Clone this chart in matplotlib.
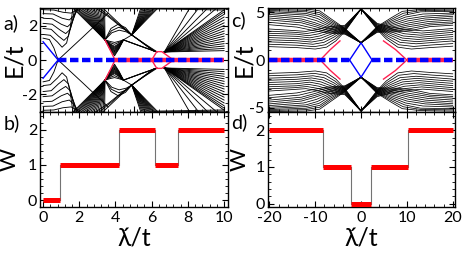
import matplotlib
matplotlib.use("Agg")
import matplotlib.pyplot as plt
from matplotlib.ticker import MultipleLocator

plt.rcParams['font.family'] = ['Lato', 'DejaVu Sans']
plt.rcParams['axes.unicode_minus'] = False

# ==========================
# Data; spectra are symmetric, only E>0 half listed
# ==========================

# panel a : E/t vs lambda'/t, 0..10
plateau_a = [
    [(0, 1.28), (0.35, 1.2), (0.6, 0.7), (0.83, 0.0), (2.2, -1.35), (3.6, -2.75)],
    [(0, 1.5), (0.4, 1.45), (0.8, 1.05), (1.05, 0.75), (1.3, 1.0), (1.5, 1.9), (1.65, 3.05)],
    [(0, 1.85), (0.45, 1.8), (0.85, 1.4), (1.15, 1.15), (1.4, 1.4), (1.6, 2.2), (1.75, 3.05)],
    [(0, 2.15), (0.5, 2.1), (0.95, 1.75), (1.25, 1.55), (1.5, 1.8), (1.7, 2.5), (1.85, 3.05)],
    [(0, 2.45), (0.5, 2.42), (1.0, 2.1), (1.35, 1.95), (1.6, 2.2), (1.8, 2.75), (1.95, 3.05)],
    [(0, 2.72), (0.55, 2.7), (1.05, 2.45), (1.45, 2.35), (1.7, 2.6), (1.9, 2.95), (2.0, 3.05)],
    [(0, 2.95), (0.6, 2.93), (1.1, 2.8), (1.55, 2.75), (1.8, 2.9), (2.0, 3.05)],
]
fan_b_vertex = (3.42, 1.18)
fan_b_top_x = [1.65, 1.74, 1.83, 1.92, 2.01, 2.1, 2.19, 2.28, 2.37, 2.46, 2.55,
               2.64, 2.73, 2.82, 2.91, 3.0, 3.1, 3.2, 3.3, 3.4]
funnel_a = [
    [(3.42, 1.18), (3.7, 0.62), (3.95, 0.25), (4.2, 0.67), (4.44, 1.18)],
    [(3.42, 1.18), (3.7, 0.67), (3.95, 0.33), (4.2, 0.71), (4.44, 1.18)],
    [(3.42, 1.18), (3.7, 0.71), (3.95, 0.40), (4.2, 0.75), (4.44, 1.18)],
    [(3.42, 1.18), (3.7, 0.76), (3.95, 0.48), (4.2, 0.79), (4.44, 1.18)],
    [(3.42, 1.18), (3.7, 0.80), (3.95, 0.55), (4.2, 0.83), (4.44, 1.18)],
    [(3.42, 1.18), (3.7, 0.84), (3.95, 0.62), (4.2, 0.87), (4.44, 1.18)],
    [(3.42, 1.18), (3.7, 0.88), (3.95, 0.68), (4.2, 0.905), (4.44, 1.18)],
    [(3.42, 1.18), (3.7, 0.92), (3.95, 0.74), (4.2, 0.94), (4.44, 1.18)],
    [(3.42, 1.18), (3.7, 0.95), (3.95, 0.80), (4.2, 0.97), (4.44, 1.18)],
    [(3.42, 1.18), (3.7, 1.02), (3.95, 0.92), (4.2, 1.04), (4.44, 1.18)],
    [(3.42, 1.18), (3.7, 1.09), (3.95, 1.03), (4.2, 1.10), (4.44, 1.18)],
]
lens_a = [
    [(3.42, 1.18), (3.8, 1.6), (4.2, 1.75), (4.6, 1.65), (4.9, 1.47)],
    [(3.42, 1.18), (3.78, 1.72), (4.18, 1.92), (4.58, 1.78), (4.9, 1.47)],
    [(3.42, 1.18), (3.75, 1.85), (4.15, 2.1), (4.55, 1.9), (4.9, 1.47)],
    [(2.9, 3.05), (3.6, 2.55), (4.3, 1.95), (4.9, 1.47)],
    [(3.1, 3.05), (3.8, 2.45), (4.4, 1.9), (4.9, 1.47)],
    [(3.3, 3.05), (3.95, 2.4), (4.5, 1.85), (4.9, 1.47)],
    [(4.44, 1.18), (4.9, 1.47)],
]
fan_d_vertex = (4.9, 1.47)
fan_d_top_x = [5.4, 5.47, 5.54, 5.61, 5.68, 5.75, 5.82, 5.89, 5.96, 6.03, 6.1, 6.18, 6.26, 6.35]
fan_e_a = [
    [(4.9, 1.47), (5.5, 1.0), (6.1, 0.52)],
    [(4.9, 1.47), (5.52, 0.99), (6.15, 0.51)],
    [(4.9, 1.47), (5.55, 0.98), (6.2, 0.5)],
    [(4.9, 1.47), (5.6, 0.96), (6.3, 0.48)],
    [(4.44, 1.18), (5.3, 0.85), (6.2, 0.5)],
    [(4.44, 1.18), (5.35, 0.83), (6.25, 0.49)],
    [(4.44, 1.18), (5.4, 0.8), (6.3, 0.47)],
]
fan_r_start = (6.7, 0.47)
fan_r_end = [(10, 0.55), (10, 0.68), (10, 0.82), (10, 0.96), (10, 1.1), (10, 1.25),
             (10, 1.4), (10, 1.55), (10, 1.7), (10, 1.86), (10, 2.02), (10, 2.18),
             (10, 2.35), (10, 2.52), (10, 2.68), (10, 2.82), (10, 2.94),
             (9.6, 3.05), (9.1, 3.05), (8.6, 3.05), (8.1, 3.05)]
top_a = [[(6.2, 3.0), (10, 2.93)], [(6.0, 3.05), (10, 3.0)]]

blue_edge_a = [(0, 1.07), (0.83, 0.0)]
red_edge_a = [(3.42, 1.18), (3.7, 0.6), (3.98, 0.0)]
red_diamond_a = [(6.0, 0.0), (6.28, 0.49), (6.56, 0.49), (7.2, 0.0)]
zero_blue_a = [(0.83, 10)]
zero_red_a = [(3.98, 10)]

# panel c : E/t vs lambda'/t, -20..20
v_lines_c = [
    [(-20, 5.4), (-12, 5.35), (-9, 5.15), (-6.5, 4.3), (-3.5, 3.3), (0, 1.8), (3.5, 3.5), (6.5, 4.4), (9, 5.1), (13, 5.3), (20, 5.35)],
    [(-20, 5.3), (-12, 5.2), (-9, 4.95), (-6.6, 4.15), (-3.5, 3.24), (0, 1.8), (3.5, 3.44), (6.6, 4.25), (9.2, 4.9), (13, 5.18), (20, 5.22)],
    [(-20, 5.2), (-12, 5.05), (-9, 4.75), (-6.7, 4.0), (-3.5, 3.18), (0, 1.8), (3.5, 3.38), (6.7, 4.1), (9.5, 4.7), (13, 5.05), (20, 5.1)],
    [(-20, 5.08), (-12, 4.88), (-9.2, 4.55), (-6.8, 3.85), (-3.5, 3.12), (0, 1.8), (3.5, 3.32), (6.8, 3.95), (9.7, 4.5), (13.5, 4.82), (20, 4.92)],
    [(-20, 4.95), (-12, 4.7), (-9.5, 4.35), (-6.9, 3.7), (-3.5, 3.06), (0, 1.8), (3.5, 3.26), (6.9, 3.8), (10, 4.3), (14, 4.6), (20, 4.75)],
    [(-20, 4.78), (-12.5, 4.5), (-9.7, 4.12), (-7.0, 3.55), (-3.5, 3.0), (0, 1.8), (3.5, 3.2), (7.0, 3.65), (10.2, 4.1), (14, 4.4), (20, 4.58)],
    [(-20, 4.6), (-13, 4.3), (-10, 3.9), (-7.1, 3.4), (-3.5, 2.94), (0, 1.8), (3.5, 3.14), (7.1, 3.5), (10.5, 3.9), (14, 4.2), (20, 4.4)],
    [(-20, 4.4), (-13, 4.1), (-10, 3.7), (-7.2, 3.26), (-3.5, 2.88), (0, 1.8), (3.5, 3.08), (7.2, 3.36), (10.5, 3.7), (14.5, 4.02), (20, 4.2)],
    [(-20, 4.2), (-13, 3.9), (-10, 3.5), (-7.3, 3.12), (-3.5, 2.82), (0, 1.8), (3.5, 3.02), (7.3, 3.22), (10.5, 3.5), (15, 3.85), (20, 4.0)],
    [(-20, 3.95), (-13.5, 3.68), (-10.2, 3.3), (-7.4, 2.98), (-3.5, 2.76), (0, 1.8), (3.5, 2.96), (7.4, 3.08), (10.8, 3.3), (15, 3.68), (20, 3.82)],
    [(-20, 3.7), (-14, 3.45), (-10.5, 3.1), (-7.5, 2.85), (-3.5, 2.7), (0, 1.8), (3.5, 2.9), (7.5, 2.95), (11, 3.1), (15, 3.5), (20, 3.65)],
]
lambda_lines_c = [
    [(-20, 1.4), (-14, 1.3), (-10, 1.15), (-7.5, 1.35), (-5.5, 2.0), (-3.5, 3.0), (0, 5.35), (3.5, 3.2), (5.5, 2.2), (8, 1.35), (11, 1.15), (15, 1.3), (20, 1.45)],
    [(-20, 1.65), (-14, 1.55), (-10.2, 1.4), (-7.8, 1.6), (-5.7, 2.2), (-3.5, 3.08), (0, 5.35), (3.5, 3.28), (5.7, 2.35), (8.2, 1.6), (11.5, 1.42), (15.5, 1.58), (20, 1.72)],
    [(-20, 1.9), (-14, 1.8), (-10.5, 1.65), (-8.1, 1.85), (-5.9, 2.4), (-3.5, 3.16), (0, 5.35), (3.5, 3.36), (5.9, 2.5), (8.5, 1.85), (12, 1.7), (16, 1.85), (20, 2.0)],
    [(-20, 2.12), (-14, 2.02), (-10.8, 1.88), (-8.4, 2.08), (-6.1, 2.58), (-3.5, 3.24), (0, 5.35), (3.5, 3.44), (6.1, 2.65), (8.8, 2.08), (12.2, 1.92), (16, 2.08), (20, 2.22)],
    [(-20, 2.35), (-14, 2.25), (-11, 2.1), (-8.7, 2.3), (-6.3, 2.76), (-3.5, 3.32), (0, 5.35), (3.5, 3.52), (6.3, 2.8), (9, 2.3), (12.5, 2.15), (16, 2.3), (20, 2.45)],
    [(-20, 2.58), (-14, 2.48), (-11.2, 2.32), (-9, 2.52), (-6.5, 2.94), (-3.5, 3.4), (0, 5.35), (3.5, 3.6), (6.5, 2.95), (9.2, 2.52), (12.8, 2.38), (20, 2.68)],
    [(-20, 2.8), (-14, 2.7), (-11.5, 2.55), (-9.3, 2.74), (-6.7, 3.12), (-3.5, 3.48), (0, 5.35), (3.5, 3.68), (6.7, 3.1), (9.5, 2.75), (13, 2.6), (20, 2.9)],
    [(-20, 3.02), (-14.5, 2.9), (-11.8, 2.78), (-9.6, 2.96), (-6.9, 3.3), (-3.5, 3.56), (0, 5.35), (3.5, 3.76), (6.9, 3.25), (9.8, 2.98), (13.2, 2.82), (20, 3.1)],
    [(-20, 3.25), (-15, 3.1), (-12, 3.0), (-9.9, 3.18), (-7.1, 3.48), (-3.5, 3.64), (0, 5.35), (3.5, 3.84), (7.1, 3.4), (10, 3.2), (13.5, 3.05), (20, 3.3)],
]
blue_diamond_c = [(-2.5, 0.0), (0, 1.8), (2.4, 0.0)]
red_edge_c = [[(-8.9, 0.0), (-6.8, 1.05), (-4.6, 2.0)], [(10.0, 0.0), (7.5, 1.1), (4.9, 2.0)]]
zero_blue_c = [(-20, -2.5), (2.4, 20)]
zero_red_c = [(-20, -8.9), (10.0, 20)]

# panels b, d : winding number W
wb_edges = [0, 0.93, 4.18, 6.16, 7.45, 10]
wb = [0, 1, 2, 1, 2]
wd_edges = [-20, -8.2, -2.2, 2.2, 10.2, 20]
wd = [2, 1, 0, 1, 2]

RED = '#ff0000'
PINK = '#ff2050'
BLUE = '#0000ff'


def curve(ax, pts, **kw):
    xs = [p[0] for p in pts]
    ys = [p[1] for p in pts]
    ax.plot(xs, ys, **kw)
    ax.plot(xs, [-y for y in ys], **kw)


def spectrum_lines(ax, curves, lw=0.65):
    for c in curves:
        curve(ax, c, color='black', lw=lw)


def fan(ax, vertex, ends):
    for e in ends:
        curve(ax, [vertex, e], color='black', lw=0.65)


def zero_modes(ax, blue_segs, red_segs):
    for x0, x1 in red_segs:
        ax.plot([x0, x1], [0, 0], color=PINK, lw=3.2, solid_capstyle='butt', zorder=4)
    for x0, x1 in blue_segs:
        ax.plot([x0, x1], [0, 0], color=BLUE, lw=3.2, linestyle=(0, (1.9, 0.8)),
                dash_capstyle='butt', zorder=5)


def winding(ax, edges, w):
    for i in range(1, len(w)):
        ax.plot([edges[i], edges[i]], [w[i - 1], w[i]], color='0.45', lw=0.8, zorder=2)
    for i in range(len(w)):
        ax.plot([edges[i], edges[i + 1]], [w[i], w[i]], color=RED, lw=3.6,
                solid_capstyle='butt', zorder=3)


def style(ax):
    for s in ax.spines.values():
        s.set_linewidth(1.0)
    ax.tick_params(which='both', direction='in', top=True, right=True, labelsize=11.5, pad=2)
    ax.tick_params(axis='x', pad=3)
    ax.tick_params(which='major', length=4, width=0.8)
    ax.tick_params(which='minor', length=2, width=0.6)


fig = plt.figure(figsize=(4.63, 2.6), dpi=100)
ax_a = fig.add_axes([0.0864, 0.5692, 0.4054, 0.4])
ax_b = fig.add_axes([0.0864, 0.2027, 0.4054, 0.3665])
ax_c = fig.add_axes([0.5778, 0.5692, 0.405, 0.4])
ax_d = fig.add_axes([0.5778, 0.2027, 0.405, 0.3665])

# ---- panel a ----
spectrum_lines(ax_a, plateau_a + funnel_a + lens_a + fan_e_a + top_a)
fan(ax_a, fan_b_vertex, [(x, 3.05) for x in fan_b_top_x])
fan(ax_a, fan_d_vertex, [(x, 3.05) for x in fan_d_top_x])
fan(ax_a, fan_r_start, fan_r_end)
curve(ax_a, blue_edge_a, color=BLUE, lw=1.0, zorder=3)
curve(ax_a, red_edge_a, color=PINK, lw=1.0, zorder=3)
curve(ax_a, red_diamond_a, color=PINK, lw=1.0, zorder=3)
zero_modes(ax_a, zero_blue_a, zero_red_a)
ax_a.set_xlim(-0.17, 10.2)
ax_a.set_ylim(-3.05, 3.05)
ax_a.set_yticks([-2, 0, 2])
ax_a.xaxis.set_minor_locator(MultipleLocator(0.4))
ax_a.yaxis.set_minor_locator(MultipleLocator(0.5))
ax_a.set_xticklabels([])
ax_a.set_ylabel('E/t', fontsize=18)
ax_a.yaxis.set_label_coords(-0.08, 0.5)

# ---- panel b ----
winding(ax_b, wb_edges, wb)
ax_b.set_xlim(-0.17, 10.2)
ax_b.set_ylim(-0.2, 2.5)
ax_b.set_xticks([0, 2, 4, 6, 8, 10])
ax_b.set_yticks([0, 1, 2])
ax_b.xaxis.set_minor_locator(MultipleLocator(0.4))
ax_b.yaxis.set_minor_locator(MultipleLocator(0.2))
ax_b.set_ylabel('W', fontsize=16)
ax_b.yaxis.set_label_coords(-0.107, 0.5)
ax_b.set_xlabel('λ\u0301/t', fontsize=18)
ax_b.xaxis.set_label_coords(0.5, -0.2)

# ---- panel c ----
spectrum_lines(ax_c, v_lines_c + lambda_lines_c, lw=0.55)
curve(ax_c, blue_diamond_c, color=BLUE, lw=1.0, zorder=3)
for r in red_edge_c:
    curve(ax_c, r, color=PINK, lw=1.0, zorder=3)
zero_modes(ax_c, zero_blue_c, zero_red_c)
ax_c.set_xlim(-20.4, 20.5)
ax_c.set_ylim(-5.45, 5.45)
ax_c.set_yticks([-5, 0, 5])
ax_c.set_xticks([-20, -10, 0, 10, 20])
ax_c.xaxis.set_minor_locator(MultipleLocator(2))
ax_c.yaxis.set_minor_locator(MultipleLocator(1))
ax_c.set_xticklabels([])
ax_c.set_ylabel('E/t', fontsize=18)
ax_c.yaxis.set_label_coords(-0.067, 0.5)

# ---- panel d ----
winding(ax_d, wd_edges, wd)
ax_d.set_xlim(-20.4, 20.5)
ax_d.set_ylim(-0.1, 2.5)
ax_d.set_xticks([-20, -10, 0, 10, 20])
ax_d.set_yticks([0, 1, 2])
ax_d.xaxis.set_minor_locator(MultipleLocator(2))
ax_d.yaxis.set_minor_locator(MultipleLocator(0.2))
ax_d.set_ylabel('W', fontsize=16)
ax_d.yaxis.set_label_coords(-0.093, 0.5)
ax_d.set_xlabel('λ\u0301/t', fontsize=18)
ax_d.xaxis.set_label_coords(0.5, -0.2)

for ax in (ax_a, ax_b, ax_c, ax_d):
    style(ax)

fig.text(0.008, 0.912, 'a)', fontsize=14, va='center')
fig.text(0.008, 0.527, 'b)', fontsize=14, va='center')
fig.text(0.500, 0.921, 'c)', fontsize=14, va='center')
fig.text(0.500, 0.531, 'd)', fontsize=14, va='center')

fig.savefig('out.png', dpi=100)
